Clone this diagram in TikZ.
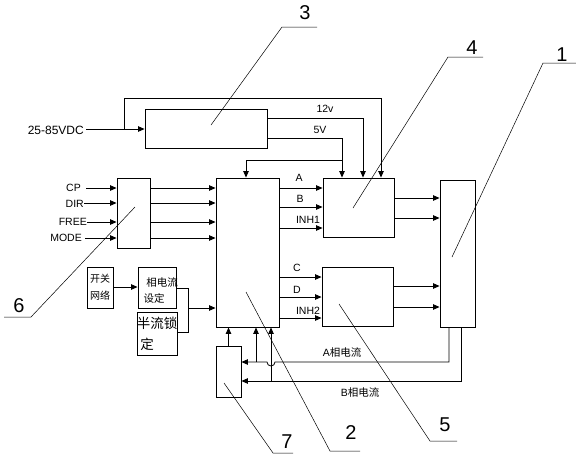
\documentclass[tikz,border=0pt]{standalone}
\usepackage{fontspec}
\setmainfont{Liberation Sans}
\newfontfamily\cjk{Noto Sans CJK SC}
\usetikzlibrary{arrows.meta}
\begin{document}
\begin{tikzpicture}[x=1pt,y=-1pt,
  blk/.style={draw,line width=0.9pt,inner sep=0pt,rectangle},
  wire/.style={line width=0.8pt},
  arr/.style={line width=0.8pt,-{Triangle[length=6.5pt,width=5.5pt]}},
  lead/.style={line width=0.5pt},
  lbl/.style={font=\fontsize{10.5}{11}\selectfont,inner sep=0pt},
  num/.style={font=\fontsize{20}{20}\selectfont,inner sep=0pt},
  zh/.style={font=\cjk\fontsize{10}{10}\selectfont,inner sep=0pt}]
\useasboundingbox (0,0) rectangle (576,456);
% blocks
\node[blk,minimum width=122pt,minimum height=39pt] (b3) at (206,128.5) {};
\node[blk,minimum width=63pt,minimum height=149pt] (b2) at (247.5,252.5) {};
\node[blk,minimum width=71pt,minimum height=59pt] (b4) at (358.5,207.5) {};
\node[blk,minimum width=71pt,minimum height=59pt] (b5) at (357.5,296.5) {};
\node[blk,minimum width=35pt,minimum height=147pt] (b1) at (457.5,253.5) {};
\node[blk,minimum width=33pt,minimum height=70pt] (b6) at (133.5,213) {};
\node[blk,minimum width=26pt,minimum height=41pt] (bsw) at (100,287.5) {};
\node[blk,minimum width=38pt,minimum height=41pt] (bset) at (157,287.5) {};
\node[blk,minimum width=40pt,minimum height=43pt] (bhalf) at (157,333.5) {};
\node[blk,minimum width=25pt,minimum height=51pt] (b7) at (228.5,371.5) {};
% texts in small boxes
\node[zh] (tsw1) at (100,279) {开关};
\node[zh] (tsw2) at (100,296) {网络};
\node[zh,font=\cjk\fontsize{10.5}{10}\selectfont] (tset1) at (162,282) {相电流};
\node[zh,font=\cjk\fontsize{10.5}{10}\selectfont] (tset2) at (154,298) {设定};
\node[zh,font=\cjk\fontsize{13.5}{13}\selectfont] (thalf1) at (157,323) {半流锁};
\node[zh,font=\cjk\fontsize{13.5}{13}\selectfont] (thalf2) at (147,344) {定};
% power input
\node[lbl,anchor=east,font=\fontsize{12}{12}\selectfont] (vin) at (84,130) {25-85VDC};
\coordinate (jin) at (124,129);
\coordinate (t1) at (124,98);
\coordinate (t2) at (381,98);
\draw[arr] (86,129) coordinate (vinl) -- (b3.west |- jin);
\draw[arr] (jin) -- (t1) -- (t2) -- (t2 |- b4.north);
\coordinate (c12) at (363,118);
\coordinate (c5) at (342,138);
\draw[arr] (b3.east |- c12) -- (c12) -- (c12 |- b4.north);
\draw[arr] (b3.east |- c5) -- (c5) -- (c5 |- b4.north);
\node[lbl] (l12) at (325,109) {12v};
\node[lbl] (l5) at (320,130) {5V};
\coordinate (j5) at (342,160);
\coordinate (c2t) at (246,160);
\draw[arr] (j5) -- (c2t) -- (c2t |- b2.north);
% control inputs
\node[lbl,anchor=east] (icp) at (81,188) {CP};
\node[lbl,anchor=east] (idir) at (84,203.5) {DIR};
\node[lbl,anchor=east] (ifree) at (87,222) {FREE};
\node[lbl,anchor=east] (imode) at (82,238) {MODE};
\coordinate (ycp) at (86,188);
\coordinate (ydir) at (84,203);
\coordinate (yfree) at (87,222);
\coordinate (ymode) at (85,238);
\foreach \c in {ycp,ydir,yfree,ymode}{
  \draw[arr] (\c) -- (b6.west |- \c);
  \draw[arr] (b6.east |- \c) -- (b2.west |- \c);
}
% box 2 -> box 4 / box 5
\coordinate (yA) at (0,188);
\coordinate (yB) at (0,207);
\coordinate (yI1) at (0,228);
\coordinate (yC) at (0,277);
\coordinate (yD) at (0,297);
\coordinate (yI2) at (0,318);
\draw[arr] (b2.east |- yA) -- (b4.west |- yA);
\draw[arr] (b2.east |- yB) -- (b4.west |- yB);
\draw[arr] (b2.east |- yI1) -- (b4.west |- yI1);
\draw[arr] (b2.east |- yC) -- (b5.west |- yC);
\draw[arr] (b2.east |- yD) -- (b5.west |- yD);
\draw[arr] (b2.east |- yI2) -- (b5.west |- yI2);
\node[lbl] (lA) at (299,178) {A};
\node[lbl] (lB) at (300,199) {B};
\node[lbl] (lI1) at (308,219.5) {INH1};
\node[lbl] (lC) at (297,268) {C};
\node[lbl] (lD) at (297,289.5) {D};
\node[lbl] (lI2) at (308,310.5) {INH2};
% box 4/5 -> box 1
\coordinate (y41) at (0,198);
\coordinate (y42) at (0,218);
\coordinate (y51) at (0,286);
\coordinate (y52) at (0,307);
\draw[arr] (b4.east |- y41) -- (b1.west |- y41);
\draw[arr] (b4.east |- y42) -- (b1.west |- y42);
\draw[arr] (b5.east |- y51) -- (b1.west |- y51);
\draw[arr] (b5.east |- y52) -- (b1.west |- y52);
% current setting
\coordinate (ysw) at (0,287);
\draw[arr] (bsw.east |- ysw) -- (bset.west |- ysw);
\coordinate (m1) at (188,288);
\coordinate (m2) at (188,332);
\coordinate (m3) at (188,308);
\draw[wire] (bset.east |- m1) -- (m1) -- (m2) -- (bhalf.east |- m2);
\draw[arr] (m3) -- (b2.west |- m3);
% box 7 and phase current feedback
\draw[arr] (b7.north) -- (b7.north |- b2.south);
\coordinate (pa) at (449,362);
\coordinate (pb) at (461,381);
\coordinate (va) at (256,362);
\coordinate (vb) at (271,381);
\draw[arr] (pa |- b1.south) -- (pa) -- (275,362) arc[start angle=0,end angle=180,radius=4] -- (b7.east |- pa);
\draw[arr] (pb |- b1.south) -- (pb) -- (b7.east |- pb);
\draw[arr] (va) -- (va |- b2.south);
\draw[arr] (vb) -- (vb |- b2.south);
\node[zh,font=\fontsize{10.5}{11}\selectfont] (lpa) at (342,352) {A{\cjk 相电流}};
\node[zh,font=\fontsize{10.5}{11}\selectfont] (lpb) at (360,392) {B{\cjk 相电流}};
% leaders and numbers
\node[num] (n3) at (305,13) {3};
\node[num] (n4) at (472,48) {4};
\node[num] (n1) at (562,55) {1};
\node[num] (n6) at (19,306) {6};
\node[num] (n7) at (287,442) {7};
\node[num] (n2) at (351,433) {2};
\node[num] (n5) at (445,425) {5};
\draw[lead] (211,125) -- (282,27) -- (317,27);
\draw[lead] (353,208) -- (448,57) -- (483,57);
\draw[lead] (452,257) -- (543,63) -- (576,63);
\draw[lead] (135,207) -- (31,317) -- (4,317);
\draw[lead] (224,383) -- (273,453) -- (293,453);
\draw[lead] (246,292) -- (330,451) -- (360,451);
\draw[lead] (339,304) -- (430,441) -- (457,441);
\end{tikzpicture}
\end{document}
